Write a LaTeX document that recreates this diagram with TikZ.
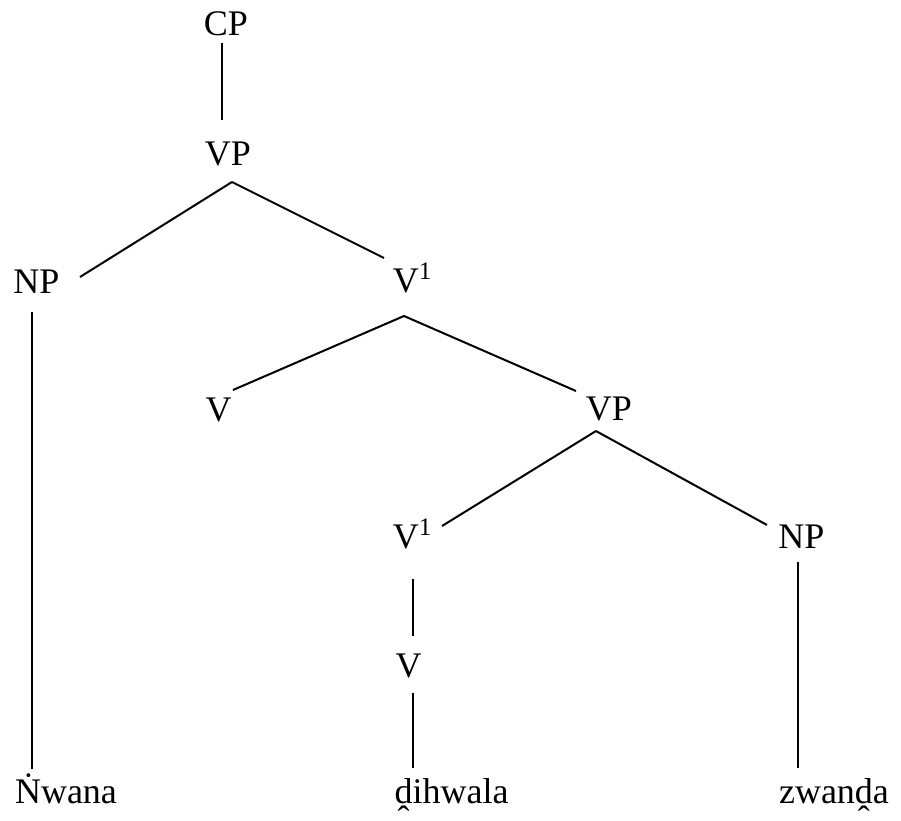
\documentclass[tikz,border=0pt]{standalone}
\usepackage{fontspec}
\setmainfont{Liberation Serif}
\usetikzlibrary{calc}

\tikzset{
  cat/.style={anchor=base, inner sep=0pt, font=\fontsize{27}{32}\selectfont},
  branch/.style={line width=1.5pt},
}

\begin{document}
\begin{tikzpicture}[x=0.75pt,y=0.75pt,yscale=-1,xscale=1]
\useasboundingbox (0,0) rectangle (901,821);

% Text Node
\node [cat] (cp) at (226,36) {CP};
% Text Node
\node [cat] (vpa) at (228,165) {VP};
% Text Node
\node [cat] (npa) at (36.5,293) {NP};
% Text Node
\node [cat] (vbara) at (412.5,292) {V\textsuperscript{1}};
% Text Node
\node [cat] (va) at (218.5,421) {V};
% Text Node
\node [cat] (vpb) at (609,420) {VP};
% Text Node
\node [cat] (vbarb) at (412.5,548) {V\textsuperscript{1}};
% Text Node
\node [cat] (npb) at (801.5,548) {NP};
% Text Node
\node [cat] (vb) at (408.5,677) {V};
% Text Node
\node [cat] (nwana) at (66,803) {Ṅwana};
% Text Node
\node [cat] (dihwala) at (451.5,803) {ḓihwala};
% Text Node
\node [cat] (zwanda) at (834,803) {zwanḓa};

%Straight Lines
\draw [branch] ($(cp.base)+(-4,7)$) -- ($(vpa.base)+(-6,-45)$) ;
%Straight Lines
\draw [branch] ($(vpa.base)+(4,17)$) -- ($(npa.base)+(43.5,-16)$) ;
\draw [branch] ($(vpa.base)+(4,17)$) -- ($(vbara.base)+(-28.5,-34)$) ;
%Straight Lines
\draw [branch] ($(npa.base)+(-4.5,19)$) -- ($(nwana.base)+(-34,-34)$) ;
%Straight Lines
\draw [branch] ($(vbara.base)+(-8.5,24)$) -- ($(va.base)+(14.5,-31)$) ;
\draw [branch] ($(vbara.base)+(-8.5,24)$) -- ($(vpb.base)+(-33,-29)$) ;
%Straight Lines
\draw [branch] ($(vpb.base)+(-13,11)$) -- ($(vbarb.base)+(29.5,-22)$) ;
\draw [branch] ($(vpb.base)+(-13,11)$) -- ($(npb.base)+(-34.5,-23)$) ;
%Straight Lines
\draw [branch] ($(vbarb.base)+(0.5,31)$) -- ($(vb.base)+(4.5,-41)$) ;
\draw [branch] ($(vb.base)+(4.5,16)$) -- ($(dihwala.base)+(-38.5,-35)$) ;
%Straight Lines
\draw [branch] ($(npb.base)+(-3.5,14)$) -- ($(zwanda.base)+(-36,-35)$) ;

\end{tikzpicture}
\end{document}
